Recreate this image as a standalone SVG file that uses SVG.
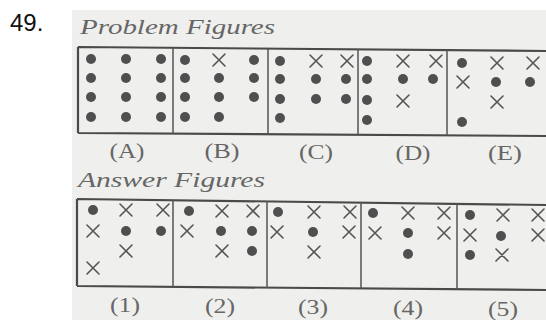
<svg xmlns="http://www.w3.org/2000/svg" width="546" height="320" viewBox="0 0 546 320">
<defs>
<style>
.bg{fill:#efefed}
.frame{stroke:#4a4a4a;stroke-width:2.2;fill:none}
.div{stroke:#555;stroke-width:1.5;fill:none}
.d{fill:#4f4f4f}
.x{stroke:#555;stroke-width:1.6;fill:none;stroke-linecap:round}
.title{font-family:"Liberation Serif",serif;font-style:italic;font-size:22px;fill:#666}
.lbl{font-family:"Liberation Serif",serif;font-size:20px;fill:#666;text-anchor:middle}
.num{font-family:"Liberation Sans",Arial,sans-serif;font-size:24px;fill:#111}
</style>
<path id="X" class="x" d="M-6,-6L6,6M6,-6L-6,6"/>
</defs>
<rect x="0" y="0" width="546" height="320" fill="#ffffff"/>
<rect class="bg" x="72" y="10" width="474" height="310"/>
<text class="num" x="10" y="31">49.</text>

<text class="title" x="80" y="34" textLength="195" lengthAdjust="spacingAndGlyphs">Problem Figures</text>
<text class="title" x="78" y="187" textLength="187" lengthAdjust="spacingAndGlyphs">Answer Figures</text>

<g id="problem-frame">
<path class="frame" d="M78,47 L546,51 M78,133 L546,136 M78,47 L78,133"/>
<path class="div" d="M173,48 L173,134 M268,49 L268,134 M358,49 L358,135 M447,50 L447,135"/>
</g>

<g id="fig-A">
<circle class="d" cx="91" cy="59" r="5"/><circle class="d" cx="126" cy="59" r="5"/><circle class="d" cx="161" cy="59" r="5"/>
<circle class="d" cx="91" cy="78" r="5"/><circle class="d" cx="126" cy="78" r="5"/><circle class="d" cx="161" cy="78" r="5"/>
<circle class="d" cx="91" cy="97" r="5"/><circle class="d" cx="126" cy="97" r="5"/><circle class="d" cx="161" cy="97" r="5"/>
<circle class="d" cx="91" cy="117" r="5"/><circle class="d" cx="126" cy="117" r="5"/><circle class="d" cx="161" cy="117" r="5"/>
</g>
<g id="fig-B">
<circle class="d" cx="185" cy="60" r="5"/><use href="#X" x="219" y="60"/><circle class="d" cx="254" cy="60" r="5"/>
<circle class="d" cx="185" cy="78" r="5"/><circle class="d" cx="219" cy="78" r="5"/><circle class="d" cx="254" cy="78" r="5"/>
<circle class="d" cx="185" cy="97" r="5"/><circle class="d" cx="219" cy="97" r="5"/><circle class="d" cx="254" cy="97" r="5"/>
<circle class="d" cx="185" cy="117" r="5"/><circle class="d" cx="219" cy="117" r="5"/>
</g>
<g id="fig-C">
<circle class="d" cx="280" cy="61" r="5"/><use href="#X" x="316" y="61"/><use href="#X" x="347" y="61"/>
<circle class="d" cx="280" cy="79" r="5"/><circle class="d" cx="316" cy="79" r="5"/><circle class="d" cx="346" cy="79" r="5"/>
<circle class="d" cx="280" cy="99" r="5"/><circle class="d" cx="316" cy="99" r="5"/><circle class="d" cx="346" cy="99" r="5"/>
<circle class="d" cx="280" cy="118" r="5"/>
</g>
<g id="fig-D">
<circle class="d" cx="367" cy="61" r="5"/><use href="#X" x="403" y="61"/><use href="#X" x="436" y="61"/>
<circle class="d" cx="367" cy="79" r="5"/><circle class="d" cx="403" cy="79" r="5"/><circle class="d" cx="433" cy="79" r="5"/>
<circle class="d" cx="367" cy="100" r="5"/><use href="#X" x="403" y="101"/>
<circle class="d" cx="367" cy="120" r="5"/>
</g>
<g id="fig-E">
<circle class="d" cx="462" cy="63" r="5"/><use href="#X" x="497" y="63"/><use href="#X" x="533" y="63"/>
<use href="#X" x="463" y="82"/><circle class="d" cx="496" cy="82" r="5"/><circle class="d" cx="530" cy="82" r="5"/>
<use href="#X" x="497" y="102"/>
<circle class="d" cx="462" cy="122" r="5"/>
</g>

<g id="problem-labels">
<text class="lbl" x="127" y="158" textLength="35" lengthAdjust="spacingAndGlyphs">(A)</text>
<text class="lbl" x="222" y="158" textLength="35" lengthAdjust="spacingAndGlyphs">(B)</text>
<text class="lbl" x="316" y="159" textLength="34" lengthAdjust="spacingAndGlyphs">(C)</text>
<text class="lbl" x="413" y="160" textLength="35" lengthAdjust="spacingAndGlyphs">(D)</text>
<text class="lbl" x="505" y="160" textLength="34" lengthAdjust="spacingAndGlyphs">(E)</text>
</g>

<g id="answer-frame">
<path class="frame" d="M77,199 L546,205 M77,286 L546,290 M77,199 L77,286"/>
<path class="div" d="M173,200 L173,287 M267,201 L267,288 M361,202 L361,288 M457,203 L457,289"/>
</g>

<g id="ans-1">
<circle class="d" cx="93" cy="210" r="5"/><use href="#X" x="126" y="210"/><use href="#X" x="163" y="210"/>
<use href="#X" x="93" y="231"/><circle class="d" cx="126" cy="231" r="5"/><circle class="d" cx="161" cy="231" r="5"/>
<use href="#X" x="126" y="251"/>
<use href="#X" x="93" y="268"/>
</g>
<g id="ans-2">
<circle class="d" cx="189" cy="211" r="5"/><use href="#X" x="222" y="211"/><use href="#X" x="253" y="211"/>
<use href="#X" x="187" y="231"/><circle class="d" cx="221" cy="231" r="5"/><circle class="d" cx="252" cy="231" r="5"/>
<use href="#X" x="222" y="251"/><circle class="d" cx="252" cy="251" r="5"/>
</g>
<g id="ans-3">
<circle class="d" cx="278" cy="212" r="5"/><use href="#X" x="314" y="212"/><use href="#X" x="350" y="212"/>
<use href="#X" x="277" y="232"/><circle class="d" cx="313" cy="232" r="5"/><use href="#X" x="349" y="232"/>
<use href="#X" x="314" y="252"/>
</g>
<g id="ans-4">
<circle class="d" cx="373" cy="213" r="5"/><use href="#X" x="408" y="213"/><use href="#X" x="444" y="213"/>
<use href="#X" x="375" y="233"/><circle class="d" cx="408" cy="233" r="5"/><use href="#X" x="444" y="233"/>
<circle class="d" cx="408" cy="254" r="5"/>
</g>
<g id="ans-5">
<circle class="d" cx="470" cy="215" r="5"/><use href="#X" x="503" y="215"/><use href="#X" x="538" y="215"/>
<use href="#X" x="470" y="235"/><circle class="d" cx="501" cy="236" r="5"/><use href="#X" x="538" y="235"/>
<circle class="d" cx="470" cy="255" r="5"/><use href="#X" x="502" y="255"/>
</g>

<g id="answer-labels">
<text class="lbl" x="125" y="312" textLength="30" lengthAdjust="spacingAndGlyphs">(1)</text>
<text class="lbl" x="220" y="313" textLength="30" lengthAdjust="spacingAndGlyphs">(2)</text>
<text class="lbl" x="313" y="314" textLength="30" lengthAdjust="spacingAndGlyphs">(3)</text>
<text class="lbl" x="408" y="315" textLength="30" lengthAdjust="spacingAndGlyphs">(4)</text>
<text class="lbl" x="503" y="316" textLength="30" lengthAdjust="spacingAndGlyphs">(5)</text>
</g>
</svg>
